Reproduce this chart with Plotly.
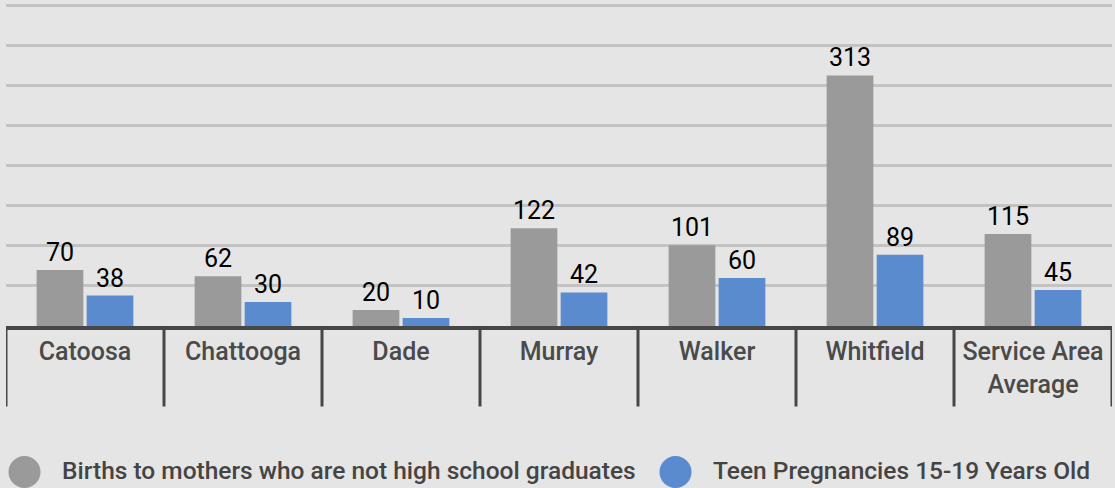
import plotly.graph_objects as go

categories = ["Catoosa", "Chattooga", "Dade", "Murray", "Walker", "Whitfield", "Service Area<br>Average"]
births_not_hs = [70, 62, 20, 122, 101, 313, 115]
teen_pregnancies = [38, 30, 10, 42, 60, 89, 45]
series_names = ["Births to mothers who are not high school graduates", "Teen Pregnancies 15-19 Years Old"]
colors = ["#9a9a9a", "#5b8bcf"]

W, H = 1115, 488
ML, MR, MT, MB = 6, 3, 1, 162
PW, PH = W - ML - MR, H - MT - MB

def px_x(p):
    return (p - ML) / PW

def px_y(p):
    return (H - MB - p) / PH

fig = go.Figure()
for name, vals, col in zip(series_names, [births_not_hs, teen_pregnancies], colors):
    fig.add_trace(go.Bar(
        x=list(range(len(categories))), y=vals, name=name,
        marker=dict(color=col, line=dict(width=0)),
        text=[str(v) for v in vals], textposition="outside",
        textfont=dict(family="Roboto", size=25, color="#000000", weight=400),
        constraintext="none", cliponaxis=False, showlegend=False,
    ))

shapes = []
# category separators
for i in range(len(categories) + 1):
    shapes.append(dict(type="line", xref="x", yref="paper", x0=i - 0.5, x1=i - 0.5,
                       y0=0, y1=px_y(406.5), line=dict(color="#474747", width=3)))
# legend circles and texts
annotations = []
legend_items = [(8.5, 60), (659.5, 711)]
for (cx0, tx), name, col in zip(legend_items, series_names, colors):
    shapes.append(dict(type="circle", xref="paper", yref="paper",
                       x0=px_x(cx0), x1=px_x(cx0 + 32), y0=px_y(456), y1=px_y(488),
                       fillcolor=col, line=dict(width=0)))
    annotations.append(dict(xref="paper", yref="paper", x=px_x(tx), y=px_y(470),
                            xanchor="left", yanchor="middle", showarrow=False, text=name,
                            font=dict(family="Roboto", size=24.5, color="#444444", weight=500)))

fig.update_layout(
    width=W, height=H,
    margin=dict(l=ML, r=MR, t=MT, b=MB, pad=0),
    paper_bgcolor="#e5e5e5", plot_bgcolor="#e5e5e5",
    barmode="group", bargap=0.367, bargroupgap=0.066,
    font=dict(family="Roboto"),
    shapes=shapes, annotations=annotations,
    xaxis=dict(tickmode="array", tickvals=list(range(len(categories))), ticktext=categories,
               range=[-0.5, len(categories) - 0.5], showgrid=False, zeroline=False,
               showline=True, linecolor="#474747", linewidth=4, ticks="",
               tickfont=dict(family="Roboto", size=25, color="#4a4a4a", weight=500)),
    yaxis=dict(range=[0, 406], tickvals=[50, 100, 150, 200, 250, 300, 350, 400],
               showgrid=True, gridcolor="#c3c3c3", gridwidth=3,
               zeroline=False, showticklabels=False, showline=False),
)

fig.write_html("out.html", config={"displayModeBar": False},
               post_script="document.body.style.margin='0';document.body.style.background='#e5e5e5';")
